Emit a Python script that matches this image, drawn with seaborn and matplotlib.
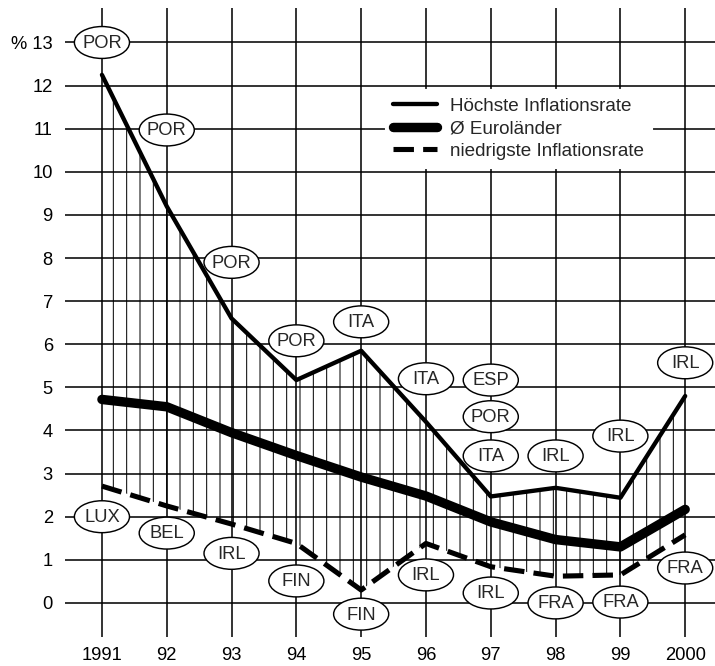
import matplotlib
matplotlib.use("Agg")
import matplotlib.pyplot as plt
from matplotlib.patches import Ellipse
import seaborn as sns
import pandas as pd

# Data
years = [1991, 1992, 1993, 1994, 1995, 1996, 1997, 1998, 1999, 2000]
year_labels = ["1991", "92", "93", "94", "95", "96", "97", "98", "99", "2000"]
highest = [12.25, 9.2, 6.6, 5.17, 5.85, 4.2, 2.47, 2.67, 2.44, 4.8]
average = [4.72, 4.55, 3.95, 3.42, 2.92, 2.48, 1.88, 1.47, 1.3, 2.17]
lowest = [2.71, 2.25, 1.83, 1.38, 0.3, 1.38, 0.84, 0.62, 0.65, 1.58]

# country tags for the highest rate
hi_tag_year = [1991, 1992, 1993, 1994, 1995, 1996, 1997, 1997, 1997, 1998, 1999, 2000]
hi_tag_code = ["POR", "POR", "POR", "POR", "ITA", "ITA", "ESP", "POR", "ITA", "IRL", "IRL", "IRL"]
hi_tag_y = [13.0, 10.97, 7.9, 6.08, 6.52, 5.2, 5.17, 4.32, 3.41, 3.41, 3.87, 5.57]

# country tags for the lowest rate
lo_tag_year = [1991, 1992, 1993, 1994, 1995, 1996, 1997, 1998, 1999, 2000]
lo_tag_code = ["LUX", "BEL", "IRL", "FIN", "FIN", "IRL", "IRL", "FRA", "FRA", "FRA"]
lo_tag_y = [2.0, 1.62, 1.15, 0.51, -0.26, 0.65, 0.23, 0.0, 0.02, 0.81]

df = pd.DataFrame({"Jahr": years, "hoch": highest, "mittel": average, "tief": lowest})

sns.set_style("white")
plt.rcParams["font.family"] = ["Liberation Sans", "DejaVu Sans"]
plt.rcParams["hatch.linewidth"] = 0.9

DPI = 80
fig = plt.figure(figsize=(715 / DPI, 666 / DPI), dpi=DPI)
ax = fig.add_axes([65 / 715, 1 - 637 / 666, 650 / 715, 629 / 666])

# hatching between lowest and highest rate
ax.fill_between(df["Jahr"], df["tief"], df["hoch"], hatch="|", facecolor="none",
                edgecolor="black", linewidth=0, zorder=2)

sns.lineplot(data=df, x="Jahr", y="hoch", ax=ax, color="black", lw=3.9,
             label="Höchste Inflationsrate", zorder=4)
sns.lineplot(data=df, x="Jahr", y="mittel", ax=ax, color="black", lw=8.5,
             label="Ø Euroländer", zorder=4)
sns.lineplot(data=df, x="Jahr", y="tief", ax=ax, color="black", lw=4.6,
             label="niedrigste Inflationsrate", zorder=4)
ax.lines[-1].set_dashes((4, 1.8))

# country ellipses
def tag(x, y, code):
    e = Ellipse((x, y), 0.85, 0.74, facecolor="white", edgecolor="black", lw=1.3, zorder=6)
    ax.add_patch(e)
    ax.text(x, y - 0.02, code, ha="center", va="center", fontsize=16.5, zorder=7)

for x, c, y in zip(hi_tag_year, hi_tag_code, hi_tag_y):
    tag(x, y, c)
for x, c, y in zip(lo_tag_year, lo_tag_code, lo_tag_y):
    tag(x, y, c)

ax.set_xlim(1991 - 0.57, 2000 + 0.46)
ax.set_ylim(-0.79, 13.8)
ax.set_xticks(years)
ax.set_xticklabels(year_labels)
yt = list(range(0, 14))
ax.set_yticks(yt)
ax.set_yticklabels([str(v) for v in yt[:-1]] + ["% 13"])
ax.tick_params(axis="both", length=0, labelsize=16.5, colors="black")
ax.tick_params(axis="y", pad=11)
ax.tick_params(axis="x", pad=9)
ax.set_xlabel("")
ax.set_ylabel("")
for s in ax.spines.values():
    s.set_visible(False)
ax.grid(True, color="black", lw=1.4)
ax.set_axisbelow(True)

leg = ax.legend(loc="upper left", bbox_to_anchor=(0.492, 0.871), borderaxespad=0,
                frameon=True, facecolor="white", edgecolor="white", framealpha=1,
                fancybox=False, fontsize=17, handlelength=2.3, handletextpad=0.7,
                labelspacing=0.28, borderpad=0.45)
leg.set_zorder(5)

fig.savefig("out.png", dpi=DPI)
